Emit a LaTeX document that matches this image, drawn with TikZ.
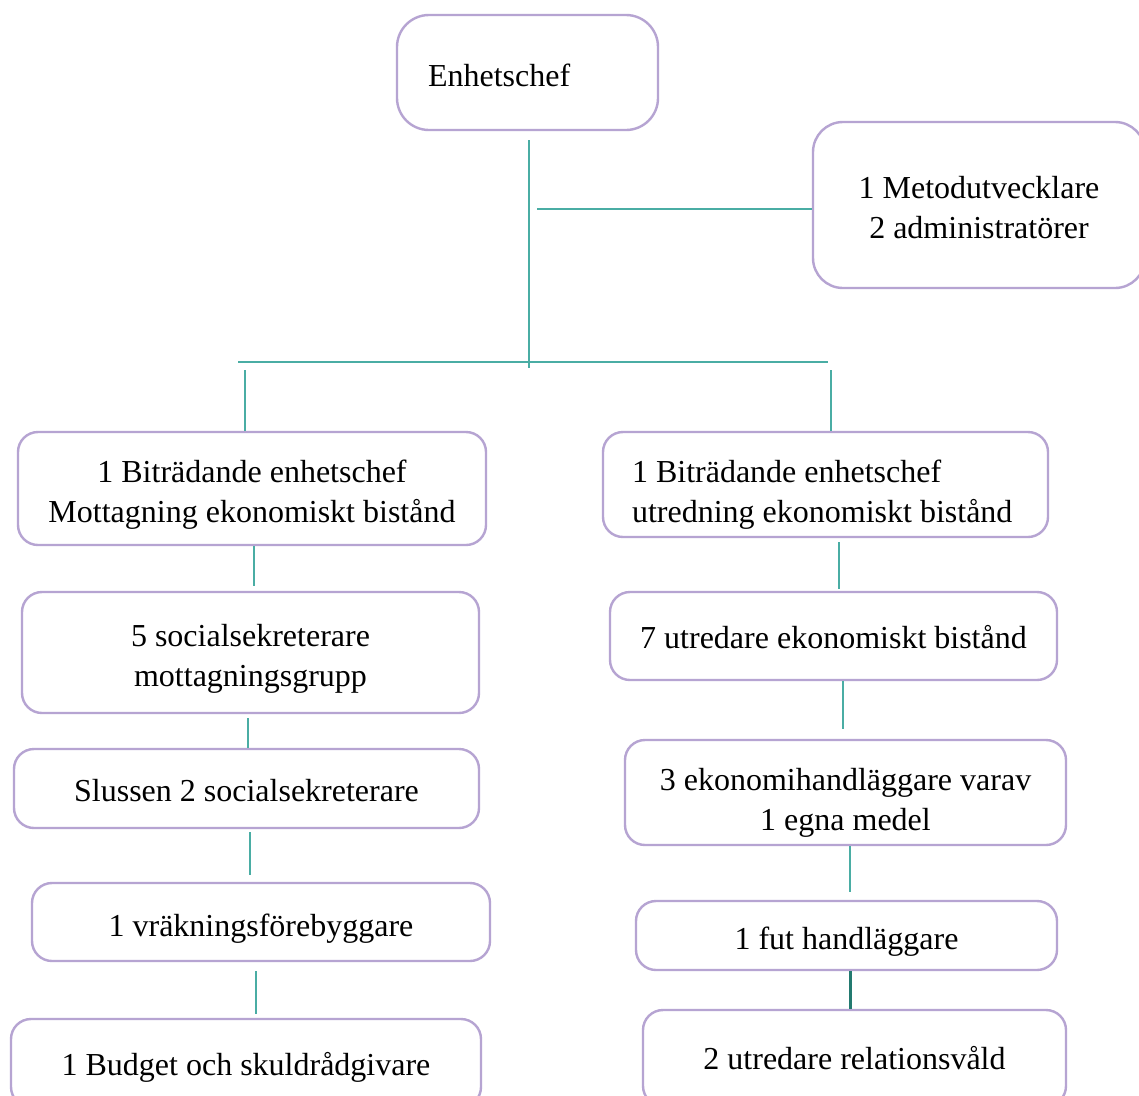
\documentclass[tikz,border=0pt]{standalone}
\usepackage{fontspec}
\setmainfont{Liberation Serif}
\definecolor{boxline}{RGB}{182,164,210}
\definecolor{teal1}{RGB}{74,173,164}
\definecolor{teal2}{RGB}{35,122,112}
\newcommand{\ctext}[2]{\raisebox{-#1}[\height][\depth]{\begin{tabular}{@{}c@{}}#2\end{tabular}}}
\newcommand{\ltext}[3]{\raisebox{-#1}[\height][\depth]{\makebox[#2][l]{\begin{tabular}{@{}l@{}}#3\end{tabular}}}}
\tikzset{
  box/.style={draw=boxline, line width=2.4pt, rounded corners=20pt, fill=white,
    inner sep=0pt, text=black,
    font=\fontsize{32}{40}\selectfont},
  conn/.style={draw=teal1, line width=1.5pt},
  connthick/.style={draw=teal2, line width=3pt},
}
\begin{document}
\begin{tikzpicture}[x=1pt,y=-1pt]
\useasboundingbox (0,0) rectangle (1139,1095);
\clip (0,0) rectangle (1139,1095);
\fill[white] (0,0) rectangle (1139,1095);

% top
\node[box, rounded corners=32pt, minimum width=261pt, minimum height=115pt] (E) at (527.5,72.5)
  {\ltext{6pt}{199pt}{Enhetschef}};
\node[box, rounded corners=30pt, minimum width=332pt, minimum height=166pt] (M) at (979,205)
  {\ctext{5pt}{1 Metodutvecklare\\2 administratörer}};

% left column
\node[box, minimum width=468pt, minimum height=113pt] (L1) at (252,488.5)
  {\ctext{6pt}{1 Biträdande enhetschef\\Mottagning ekonomiskt bistånd}};
\node[box, minimum width=457pt, minimum height=121pt] (L2) at (250.5,652.5)
  {\ctext{6pt}{5 socialsekreterare\\mottagningsgrupp}};
\node[box, minimum width=465pt, minimum height=79pt] (L3) at (246.5,788.5)
  {\ctext{5pt}{Slussen 2 socialsekreterare}};
\node[box, minimum width=458pt, minimum height=78pt] (L4) at (261,922)
  {\ctext{6pt}{1 vräkningsförebyggare}};
\node[box, minimum width=470pt, minimum height=88pt] (L5) at (246,1063)
  {\ctext{4pt}{1 Budget och skuldrådgivare}};

% right column
\node[box, minimum width=445pt, minimum height=105pt] (R1) at (825.5,484.5)
  {\ltext{10pt}{387pt}{1 Biträdande enhetschef\\utredning ekonomiskt bistånd}};
\node[box, minimum width=447pt, minimum height=88pt] (R2) at (833.5,636)
  {\ctext{4pt}{7 utredare ekonomiskt bistånd}};
\node[box, minimum width=441pt, minimum height=105pt] (R3) at (845.5,792.5)
  {\ctext{10pt}{3 ekonomihandläggare varav\\1 egna medel}};
\node[box, minimum width=421pt, minimum height=69pt] (R4) at (846.5,935.5)
  {\ctext{6pt}{1 fut handläggare}};
\node[box, minimum width=423pt, minimum height=96pt] (R5) at (854.5,1058)
  {\ctext{3pt}{2 utredare relationsvåld}};

% bus structure
\coordinate (stemTop) at (529,140);
\coordinate (stemBot) at (529,368);
\coordinate (toM) at (537,209);
\coordinate (busL) at (238,362);
\coordinate (busR) at (828,362);
\coordinate (dropL) at (245,370);
\coordinate (dropR) at (831,370);

\draw[conn] (stemTop) -- (stemBot);
\draw[conn] (toM) -- (toM -| M.west);
\draw[conn] (busL) -- (busR);
\draw[conn] (dropL) -- (dropL |- L1.north);
\draw[conn] (dropR) -- (dropR |- R1.north);

% left chain
\draw[conn] (L1.south -| 254,0) -- ([yshift=5pt]L2.north -| 254,0);
\draw[conn] ([yshift=-4pt]L2.south -| 248,0) -- (L3.north -| 248,0);
\draw[conn] ([yshift=-3pt]L3.south -| 250,0) -- ([yshift=7pt]L4.north -| 250,0);
\draw[conn] ([yshift=-9pt]L4.south -| 256,0) -- ([yshift=4pt]L5.north -| 256,0);

% right chain
\draw[conn] ([yshift=-4pt]R1.south -| 839,0) -- ([yshift=2pt]R2.north -| 839,0);
\draw[conn] (R2.south -| 843,0) -- ([yshift=10pt]R3.north -| 843,0);
\draw[conn] (R3.south -| 850,0) -- ([yshift=8pt]R4.north -| 850,0);
\draw[connthick] (R4.south -| 850,0) -- (R5.north -| 850,0);
\end{tikzpicture}
\end{document}
